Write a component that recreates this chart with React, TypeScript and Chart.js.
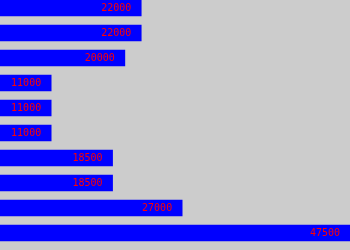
import React, { useEffect, useRef } from "react";
import { Chart, registerables } from "chart.js";

Chart.register(...registerables);

const categories = ["1", "2", "3", "4", "5", "6", "7", "8", "9", "10"];
const values = [22000, 22000, 20000, 11000, 11000, 11000, 18500, 18500, 27000, 47500];
const axisMin = 4750;
const axisMax = 47500;

const valueLabels = {
  id: "valueLabels",
  afterDatasetsDraw(chart: any) {
    const ctx = chart.ctx;
    const meta = chart.getDatasetMeta(0);
    ctx.save();
    ctx.font = '10px "DejaVu Sans Mono"';
    ctx.fillStyle = "#ff0000";
    ctx.textAlign = "right";
    ctx.textBaseline = "middle";
    meta.data.forEach((bar: any, i: number) => {
      ctx.fillText(String(values[i]), bar.x - 10, bar.y);
    });
    ctx.restore();
  },
};

export default function App() {
  const ref = useRef<HTMLCanvasElement>(null);
  useEffect(() => {
    if (!ref.current) return;
    const chart = new Chart(ref.current, {
      type: "bar",
      data: {
        labels: categories,
        datasets: [
          {
            data: values,
            backgroundColor: "#0000ff",
            borderWidth: 0,
            barThickness: 16,
          },
        ],
      },
      options: {
        indexAxis: "y",
        responsive: false,
        animation: false,
        devicePixelRatio: 1,
        layout: { padding: { top: 0.5, bottom: 4.5, left: 0, right: 0 } },
        plugins: { legend: { display: false }, tooltip: { enabled: false } },
        scales: {
          x: { display: false, min: axisMin, max: axisMax },
          y: { display: false },
        },
      },
      plugins: [valueLabels],
    });
    return () => chart.destroy();
  }, []);
  return (
    <div
      style={{
        position: "fixed",
        top: 0,
        left: 0,
        width: 350,
        height: 250,
        background: "#cccccc",
        overflow: "hidden",
      }}
    >
      <canvas
        ref={ref}
        width={350}
        height={255}
        style={{ display: "block", position: "absolute", top: -5, left: 0 }}
      />
    </div>
  );
}
